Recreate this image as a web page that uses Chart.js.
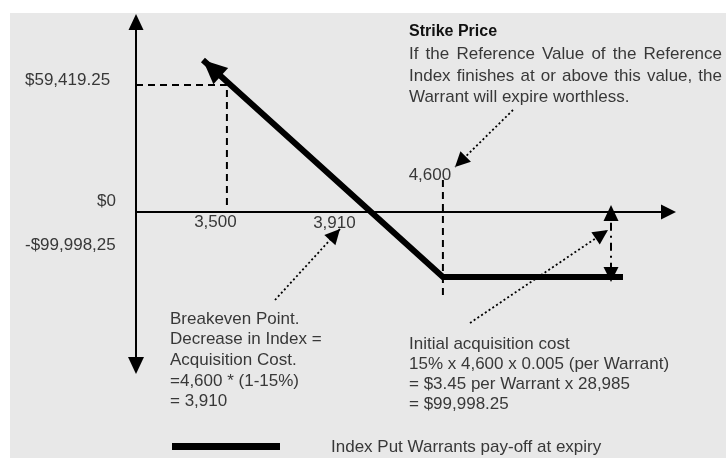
<!DOCTYPE html>
<html>
<head>
<meta charset="utf-8">
<script src="https://cdn.jsdelivr.net/npm/chart.js@4/dist/chart.umd.min.js"></script>
<style>
html, body { margin: 0; padding: 0; background: #fff; }
canvas { display: block; }
</style>
</head>
<body>
<canvas id="chart" width="726" height="458"></canvas>
<script>
// Valores (esquema, no a escala)
const payoffIndex = [3378, 4600, 5517];
const payoffValue = [71100, -30400, -30400];
const strikeIndex = 4600;
const floorValue = -30400;
const sampleIndex = 3500;
const samplePayoff = 59419.25;
const costIndex = 5456;

const xTickValues = [3500, 3910, 4600];
const xTickLabels = ['3,500', '3,910', '4,600'];
const yTickLabels = ['$59,419.25', '$0', '-$99,998,25'];

const strikeTitle = 'Strike Price';
const strikeText = ['If the Reference Value of the Reference', 'Index finishes at or above this value, the', 'Warrant will expire worthless.'];
const breakevenText = ['Breakeven Point.', 'Decrease in Index =', 'Acquisition Cost.', '=4,600 * (1-15%)', '= 3,910'];
const costText = ['Initial acquisition cost', '15% x 4,600 x 0.005 (per Warrant)', '= $3.45 per Warrant x 28,985', '= $99,998.25'];
const seriesName = 'Index Put Warrants pay-off at expiry';

const FONT = '17px "Liberation Sans", Arial, sans-serif';
const TEXT = '#383838';

// dibuja la punta de una flecha
function arrowHead(ctx, tx, ty, fx, fy, len, half) {
    const a = Math.atan2(ty - fy, tx - fx);
    const bx = tx - len * Math.cos(a), by = ty - len * Math.sin(a);
    ctx.beginPath();
    ctx.moveTo(tx, ty);
    ctx.lineTo(bx - half * Math.sin(a), by + half * Math.cos(a));
    ctx.lineTo(bx + half * Math.sin(a), by - half * Math.cos(a));
    ctx.closePath();
    ctx.fill();
}

function line(ctx, x1, y1, x2, y2, w, dash) {
    ctx.save();
    ctx.lineWidth = w;
    ctx.setLineDash(dash || []);
    ctx.beginPath();
    ctx.moveTo(x1, y1);
    ctx.lineTo(x2, y2);
    ctx.stroke();
    ctx.restore();
}

// texto justificado entre x y x+width
function justified(ctx, text, x, y, width) {
    const words = text.split(' ');
    const total = words.reduce((s, w) => s + ctx.measureText(w).width, 0);
    const gap = (width - total) / (words.length - 1);
    let cx = x;
    words.forEach(w => {
        ctx.fillText(w, cx, y);
        cx += ctx.measureText(w).width + gap;
    });
}

const diagram = {
    id: 'diagram',
    beforeDraw(chart) {
        const ctx = chart.ctx;
        ctx.save();
        ctx.fillStyle = '#fff';
        ctx.fillRect(0, 0, chart.width, chart.height);
        ctx.fillStyle = '#e8e8e8';
        ctx.fillRect(10, 13, chart.width - 10, chart.height - 13);
        ctx.restore();
    },
    beforeDatasetsDraw(chart) {
        const ctx = chart.ctx, area = chart.chartArea;
        const y0 = chart.scales.y.getPixelForValue(0);
        ctx.save();
        ctx.strokeStyle = '#000';
        ctx.fillStyle = '#000';
        // ejes con flechas
        line(ctx, area.left, area.top + 4, area.left, area.bottom - 4, 2);
        line(ctx, area.left, y0, area.right - 4, y0, 2);
        arrowHead(ctx, area.left, area.top, area.left, area.top + 20, 16, 7.5);
        arrowHead(ctx, area.left, area.bottom, area.left, area.bottom - 20, 17, 8);
        arrowHead(ctx, area.right, y0, area.right - 20, y0, 15, 7.5);
        ctx.restore();
    },
    afterDatasetsDraw(chart) {
        const ctx = chart.ctx;
        const xs = chart.scales.x, ys = chart.scales.y;
        const y0 = ys.getPixelForValue(0);
        ctx.save();
        ctx.fillStyle = '#000';
        ctx.strokeStyle = '#000';

        // punta de flecha de la línea de pago
        const pts = chart.getDatasetMeta(0).data;
        arrowHead(ctx, pts[0].x, pts[0].y, pts[1].x, pts[1].y, 24, 11);

        // flecha doble del costo
        const cx = xs.getPixelForValue(costIndex);
        const yf = ys.getPixelForValue(floorValue);
        arrowHead(ctx, cx, y0 - 7, cx, y0 + 10, 16, 7.5);
        arrowHead(ctx, cx, yf + 5, cx, yf - 10, 15, 7.5);

        // flechas punteadas de las notas
        const notes = [[513, 110, 455, 167], [275, 300, 340, 229], [470, 323, 608, 230]];
        notes.forEach(n => {
            line(ctx, n[0], n[1], n[2], n[3], 1.8, [2, 2.5]);
            arrowHead(ctx, n[2], n[3], n[0], n[1], 15, 7.5);
        });

        // etiquetas de los ejes
        ctx.font = FONT;
        ctx.fillStyle = TEXT;
        ctx.textBaseline = 'middle';
        ctx.textAlign = 'center';
        const xOff = [[-11.5, 10], [27, 11], [-13, -37]];
        xTickValues.forEach((v, i) => {
            ctx.fillText(xTickLabels[i], xs.getPixelForValue(v) + xOff[i][0], y0 + xOff[i][1]);
        });
        ctx.textAlign = 'left';
        ctx.fillText(yTickLabels[0], 25, ys.getPixelForValue(samplePayoff) - 5);
        ctx.fillText(yTickLabels[2], 25, y0 + 33);
        ctx.textAlign = 'right';
        ctx.fillText(yTickLabels[1], 116, y0 - 11);

        // notas de texto
        ctx.textAlign = 'left';
        ctx.font = 'bold 16px "Liberation Sans", Arial, sans-serif';
        ctx.fillStyle = '#111';
        ctx.fillText(strikeTitle, 409, 32);
        ctx.font = FONT;
        ctx.fillStyle = TEXT;
        justified(ctx, strikeText[0], 409, 54, 313);
        justified(ctx, strikeText[1], 409, 76, 313);
        ctx.fillText(strikeText[2], 409, 97);
        breakevenText.forEach((t, i) => ctx.fillText(t, 170, 319 + i * 20.7));
        costText.forEach((t, i) => ctx.fillText(t, 409, 344 + i * 20));

        // leyenda
        ctx.fillStyle = '#000';
        ctx.fillRect(172, 443, 108, 7);
        ctx.fillStyle = TEXT;
        ctx.fillText(chart.data.datasets[0].label, 331, 447);
        ctx.restore();
    }
};

const ctx = document.getElementById('chart').getContext('2d');
new Chart(ctx, {
    type: 'scatter',
    data: {
        datasets: [{
            label: seriesName,
            data: payoffIndex.map((x, i) => ({ x: x, y: payoffValue[i] })),
            showLine: true,
            borderColor: '#000',
            borderWidth: 6,
            borderJoinStyle: 'miter',
            borderCapStyle: 'butt',
            pointRadius: 0,
            tension: 0
        }, {
            label: 'guia 3500',
            data: [{ x: 3037, y: samplePayoff }, { x: sampleIndex, y: samplePayoff }, { x: sampleIndex, y: 3300 }],
            showLine: true,
            borderColor: '#000',
            borderWidth: 2,
            borderDash: [7, 5],
            pointRadius: 0
        }, {
            label: 'guia strike',
            data: [{ x: strikeIndex, y: 14970 }, { x: strikeIndex, y: -41170 }],
            showLine: true,
            borderColor: '#000',
            borderWidth: 2,
            borderDash: [7, 5],
            pointRadius: 0
        }, {
            label: 'costo',
            data: [{ x: costIndex, y: -5000 }, { x: costIndex, y: floorValue + 4000 }],
            showLine: true,
            borderColor: '#000',
            borderWidth: 2,
            borderDash: [8, 5, 2, 5],
            pointRadius: 0
        }]
    },
    options: {
        responsive: false,
        animation: false,
        layout: { padding: { left: 136, right: 50, top: 14, bottom: 84 } },
        scales: {
            x: { type: 'linear', min: 3037, max: 5787, display: false },
            y: { type: 'linear', min: -75794, max: 92637, display: false }
        },
        plugins: { legend: { display: false }, tooltip: { enabled: false } }
    },
    plugins: [diagram]
});
</script>
</body>
</html>
